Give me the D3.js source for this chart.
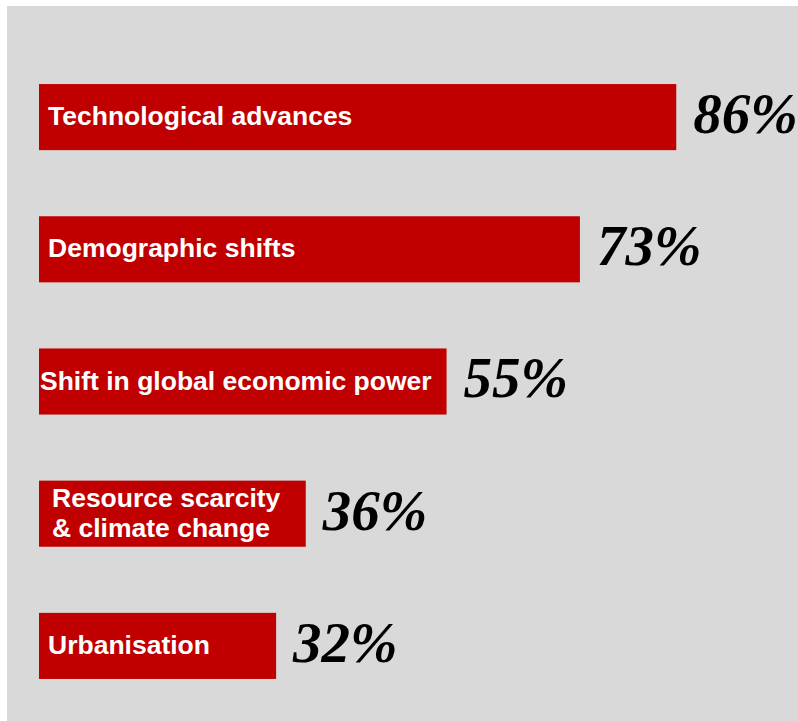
<!DOCTYPE html>
<html>
<head>
<meta charset="utf-8">
<script src="https://cdn.jsdelivr.net/npm/d3@7/dist/d3.min.js"></script>
<style>
  html, body { margin: 0; padding: 0; background: #ffffff; }
  svg { display: block; }
</style>
</head>
<body>
<div id="chart"></div>
<script>
// Megatrends and the share of respondents naming each one
const categories = [
  ["Technological advances"],
  ["Demographic shifts"],
  ["Shift in global economic power"],
  ["Resource scarcity", "& climate change"],
  ["Urbanisation"]
];
const values = [86, 73, 55, 36, 32];
const valueLabels = ["86%", "73%", "55%", "36%", "32%"];

const width = 798, height = 721;

const svg = d3.select("#chart").append("svg")
  .attr("width", width)
  .attr("height", height);

// grey panel
svg.append("rect")
  .attr("x", 7).attr("y", 6)
  .attr("width", width - 7).attr("height", height - 6)
  .attr("fill", "#d9d9d9");

const x = d3.scaleLinear().domain([0, 100]).range([39, 780]);

const y = d3.scaleBand()
  .domain(d3.range(values.length))
  .range([51, 712])
  .paddingInner(0.5)
  .paddingOuter(0.25);

const rows = svg.selectAll("g.row")
  .data(values.map((v, i) => ({ v, i, lines: categories[i], label: valueLabels[i] })))
  .join("g")
  .attr("class", "row");

rows.append("rect")
  .attr("x", x(0))
  .attr("y", d => y(d.i))
  .attr("width", d => x(d.v) - x(0))
  .attr("height", y.bandwidth())
  .attr("fill", "#c00000");

// category names inside the bars
rows.append("text")
  .attr("font-family", "'Liberation Sans', Arial, sans-serif")
  .attr("font-weight", "bold")
  .attr("font-size", 26.5)
  .attr("fill", "#ffffff")
  .each(function(d) {
    const t = d3.select(this);
    const cy = y(d.i) + y.bandwidth() / 2;
    const n = d.lines.length;
    const lh = 30;
    const pad = n > 1 ? 13 : 9;
    const spans = d.lines.map((line, k) =>
      t.append("tspan")
        .attr("x", x(0) + pad)
        .attr("y", cy + 8 + (k - (n - 1) / 2) * lh)
        .text(line));
    // pull long names left so they stay inside their bar
    const w = d3.max(spans, s => s.node().getComputedTextLength());
    const room = x(d.v) - x(0) - 15;
    if (w > room - pad) {
      spans.forEach(s => s.attr("x", x(0) + Math.max(1, room - w)));
    }
  });

// percentage labels after the bars
rows.append("text")
  .attr("x", d => x(d.v) + 17)
  .attr("y", d => y(d.i) + 49)
  .attr("font-family", "'Liberation Serif', 'Times New Roman', serif")
  .attr("font-weight", "bold")
  .attr("font-style", "italic")
  .attr("font-size", 57)
  .attr("fill", "#000000")
  .text(d => d.label);
</script>
</body>
</html>
